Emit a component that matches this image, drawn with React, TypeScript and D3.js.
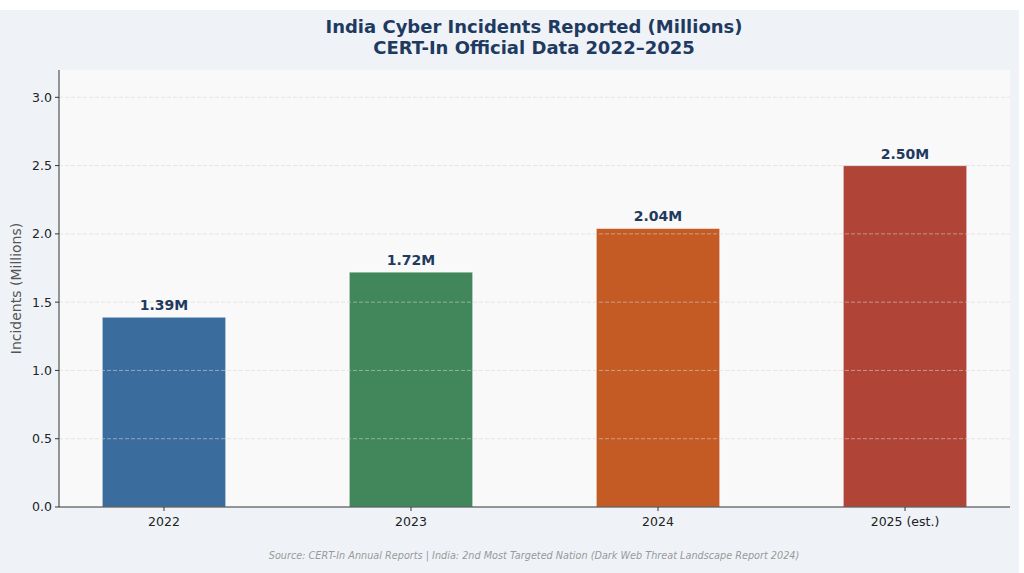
import React, { useEffect, useRef } from "react";
import * as d3 from "d3";

const categories = ["2022", "2023", "2024", "2025 (est.)"];
const incidents = [1.39, 1.72, 2.04, 2.5];
const valueLabels = ["1.39M", "1.72M", "2.04M", "2.50M"];
const barColors = ["#3a6d9d", "#41875b", "#c45b24", "#b04436"];
const yTicks = [0, 0.5, 1.0, 1.5, 2.0, 2.5, 3.0];

function App() {
  const ref = useRef<SVGSVGElement>(null);

  useEffect(() => {
    const width = 1024;
    const height = 573;
    const m = { left: 59, right: 1010, top: 70, bottom: 507 };
    const font = "'DejaVu Sans', sans-serif";

    const svg = d3.select(ref.current);
    svg.selectAll("*").remove();
    svg.attr("width", width).attr("height", height);

    // figure background
    svg.append("rect").attr("width", width).attr("height", height).attr("fill", "#ffffff");
    svg.append("rect").attr("x", 0).attr("y", 10).attr("width", 1019).attr("height", 563).attr("fill", "#eff3f8");

    // axes background
    svg.append("rect")
      .attr("x", m.left).attr("y", m.top)
      .attr("width", m.right - m.left).attr("height", m.bottom - m.top)
      .attr("fill", "#f9f9f9");

    const x = d3.scaleLinear().domain([-0.425, 3.425]).range([m.left, m.right]);
    const y = d3.scaleLinear().domain([0, 3.2]).range([m.bottom, m.top]);
    const barW = x(0.5) - x(0);

    // bars
    svg.append("g").selectAll("rect")
      .data(incidents)
      .enter()
      .append("rect")
      .attr("x", (d, i) => x(i) - barW / 2)
      .attr("y", (d) => y(d))
      .attr("width", barW)
      .attr("height", (d) => y(0) - y(d))
      .attr("fill", (d, i) => barColors[i])
      .attr("stroke", "#ffffff")
      .attr("stroke-opacity", 0.6)
      .attr("stroke-width", 1);

    // grid (drawn above bars)
    svg.append("g").selectAll("line")
      .data(yTicks.slice(1))
      .enter()
      .append("line")
      .attr("x1", m.left).attr("x2", m.right)
      .attr("y1", (d) => y(d)).attr("y2", (d) => y(d))
      .attr("stroke", "#d4d4d4")
      .attr("stroke-opacity", 0.7)
      .attr("stroke-dasharray", "4,2")
      .attr("stroke-width", 0.8);

    // value labels
    svg.append("g").selectAll("text")
      .data(incidents)
      .enter()
      .append("text")
      .attr("x", (d, i) => x(i))
      .attr("y", (d) => y(d) - 7)
      .attr("text-anchor", "middle")
      .attr("font-family", font)
      .attr("font-weight", "bold")
      .attr("font-size", 14)
      .attr("fill", "#1f3a5f")
      .text((d, i) => valueLabels[i]);

    // spines
    svg.append("line").attr("x1", m.left).attr("x2", m.left).attr("y1", m.top).attr("y2", m.bottom)
      .attr("stroke", "#333").attr("stroke-width", 1);
    svg.append("line").attr("x1", m.left).attr("x2", m.right).attr("y1", m.bottom).attr("y2", m.bottom)
      .attr("stroke", "#333").attr("stroke-width", 1);

    // y ticks
    const yg = svg.append("g");
    yTicks.forEach((t) => {
      yg.append("line").attr("x1", m.left - 4).attr("x2", m.left).attr("y1", y(t)).attr("y2", y(t))
        .attr("stroke", "#333");
      yg.append("text")
        .attr("x", m.left - 7).attr("y", y(t)).attr("dy", "0.35em")
        .attr("text-anchor", "end")
        .attr("font-family", font).attr("font-size", 12.5).attr("fill", "#222")
        .text(t.toFixed(1));
    });

    // x ticks
    const xg = svg.append("g");
    categories.forEach((c, i) => {
      xg.append("line").attr("x1", x(i)).attr("x2", x(i)).attr("y1", m.bottom).attr("y2", m.bottom + 4)
        .attr("stroke", "#333");
      xg.append("text")
        .attr("x", x(i)).attr("y", m.bottom + 19)
        .attr("text-anchor", "middle")
        .attr("font-family", font).attr("font-size", 12.5).attr("fill", "#222")
        .text(c);
    });

    // y label
    svg.append("text")
      .attr("transform", `translate(21,${(m.top + m.bottom) / 2}) rotate(-90)`)
      .attr("text-anchor", "middle")
      .attr("font-family", font).attr("font-size", 14).attr("fill", "#555")
      .text("Incidents (Millions)");

    // title
    const title = svg.append("text")
      .attr("text-anchor", "middle")
      .attr("font-family", font).attr("font-weight", "bold").attr("font-size", 18)
      .attr("fill", "#1f3a5f");
    title.append("tspan").attr("x", 534).attr("y", 33).text("India Cyber Incidents Reported (Millions)");
    title.append("tspan").attr("x", 534).attr("y", 54).text("CERT-In Official Data 2022–2025");

    // source
    svg.append("text")
      .attr("x", 534).attr("y", 559)
      .attr("text-anchor", "middle")
      .attr("font-family", font).attr("font-style", "italic").attr("font-size", 9.7)
      .attr("fill", "#999")
      .text("Source: CERT-In Annual Reports | India: 2nd Most Targeted Nation (Dark Web Threat Landscape Report 2024)");
  }, []);

  return <svg ref={ref} style={{ display: "block", position: "absolute", left: 0, top: 0 }}></svg>;
}

export default App;
